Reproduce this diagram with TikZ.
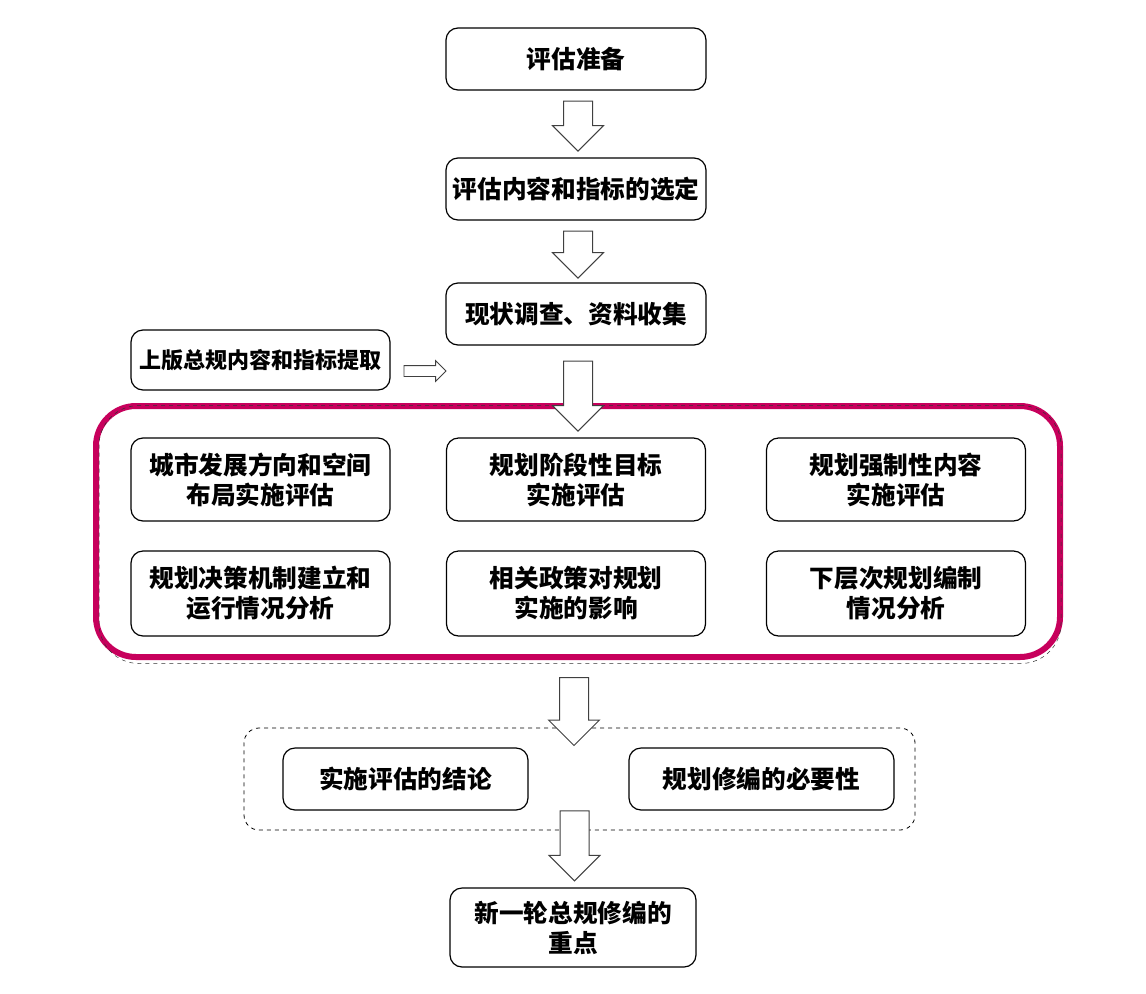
\documentclass[tikz,border=0pt]{standalone}
\usepackage{fontspec}
\newfontfamily\cjk{Noto Sans CJK SC}
\usetikzlibrary{shapes.arrows,calc}

\newlength{\du}
\setlength{\du}{0.75pt}
\definecolor{framecolor}{rgb}{0.780000, 0.000000, 0.360000}

\tikzset{
  stepbox/.style={draw=black, line width=1.2\du, rounded corners=12\du, fill=white,
    minimum width=260\du, minimum height=62\du, inner sep=0pt, align=center,
    font=\cjk\bfseries\fontsize{18.5}{22.5}\selectfont},
  downarr/.style={single arrow, draw=black!75, line width=1\du, fill=white, rotate=-90,
    anchor=tail, inner xsep=0pt, inner ysep=14\du, single arrow head extend=11\du,
    minimum height=#1},
  rightarr/.style={single arrow, draw=black!75, line width=0.8\du, fill=white,
    anchor=tail, inner xsep=0pt, inner ysep=5\du, single arrow head extend=5\du,
    minimum height=#1},
}

\begin{document}
\begin{tikzpicture}
\pgftransformxscale{1.000000}
\pgftransformyscale{-1.000000}
\useasboundingbox (0\du,0\du) rectangle (1146\du,993\du);
% top steps
\node[stepbox] (prep) at (576\du,59\du) {评估准备};
\node[stepbox] (select) at (576\du,189\du) {评估内容和指标的选定};
\node[stepbox] (survey) at (576\du,314\du) {现状调查、资料收集};
\node[stepbox, minimum width=259\du, minimum height=60\du,
  font=\cjk\bfseries\fontsize{16.5}{20}\selectfont] (extract) at (260.5\du,360\du) {上版总规内容和指标提取};
% evaluation frame
\node[draw=framecolor, line width=6\du, rounded corners=40\du, fill=white,
  minimum width=964\du, minimum height=251\du] (frame) at (578\du,531.5\du) {};
\node[draw=black!80, dashed, line width=0.5\du, rounded corners=40\du,
  minimum width=962\du, minimum height=258\du] (frameshadow) at (580\du,534.5\du) {};
\node[stepbox, minimum width=259\du, minimum height=83\du] (direction) at (260.5\du,479.5\du) {城市发展方向和空间\\布局实施评估};
\node[stepbox, minimum width=259\du, minimum height=83\du] (stage) at (576\du,479.5\du) {规划阶段性目标\\实施评估};
\node[stepbox, minimum width=259\du, minimum height=83\du] (mandatory) at (896\du,479.5\du) {规划强制性内容\\实施评估};
\node[stepbox, minimum width=259\du, minimum height=85\du] (decision) at (260.5\du,593.5\du) {规划决策机制建立和\\运行情况分析};
\node[stepbox, minimum width=259\du, minimum height=85\du] (policy) at (576\du,593.5\du) {相关政策对规划\\实施的影响};
\node[stepbox, minimum width=259\du, minimum height=85\du] (lower) at (896\du,593.5\du) {下层次规划编制\\情况分析};
% results
\node[draw=black, dashed, line width=0.8\du, rounded corners=15\du,
  minimum width=671\du, minimum height=102\du] (result) at (579.5\du,779\du) {};
\node[stepbox, minimum width=245\du] (conclusion) at (405.5\du,779\du) {实施评估的结论};
\node[stepbox, minimum width=265\du] (necessity) at (761.5\du,779\du) {规划修编的必要性};
\node[stepbox, minimum width=246\du, minimum height=79\du] (focus) at (573\du,927.5\du) {新一轮总规修编的\\重点};
% arrows
\node[downarr=50\du] (arrA) at ($(prep.south)+(2\du,10\du)$) {};
\node[downarr=47\du] (arrB) at ($(select.south)+(2\du,10\du)$) {};
\node[downarr=70\du] (arrC) at ($(survey.south)+(2\du,15\du)$) {};
\node[downarr=68\du] (arrD) at ($(frame.south)+(-4\du,17\du)$) {};
\node[downarr=70\du] (arrE) at ($(result.south)+(-5\du,-20\du)$) {};
\node[rightarr=42\du] (arrF) at ($(extract.east)+(13\du,11\du)$) {};
\end{tikzpicture}
\end{document}
